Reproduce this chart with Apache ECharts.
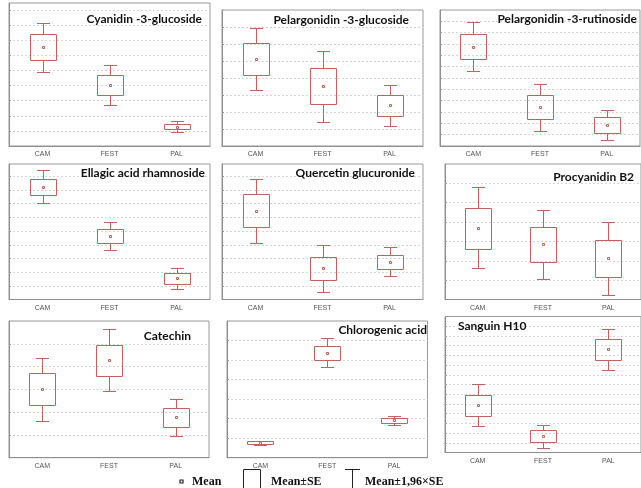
<!DOCTYPE html>
<html>
<head>
<meta charset="utf-8">
<script src="https://cdn.jsdelivr.net/npm/echarts@6/dist/echarts.min.js"></script>
<style>
  html, body { margin: 0; padding: 0; background: #fff; }
  #chart { width: 641px; height: 488px; }
</style>
</head>
<body>
<div id="chart"></div>
<script>
// each row: [mean-1.96SE, mean-SE, mean, mean+SE, mean+1.96SE] for CAM, FEST, PAL
const categories = ['CAM', 'FEST', 'PAL']
const titles = [
  'Cyanidin -3-glucoside', 'Pelargonidin -3-glucoside', 'Pelargonidin -3-rutinoside',
  'Ellagic acid rhamnoside', 'Quercetin glucuronide', 'Procyanidin B2',
  'Catechin', 'Chlorogenic acid', 'Sanguin H10'
]
const cyanidin3glc = [[4.90, 5.68, 6.54, 7.40, 8.17], [2.72, 3.38, 4.06, 4.72, 5.38], [0.91, 1.10, 1.26, 1.48, 1.66]]
const pelargonidin3glc = [[3.28, 4.16, 5.10, 6.08, 6.96], [1.41, 2.45, 3.51, 4.57, 5.61], [1.18, 1.76, 2.39, 3.00, 3.59]]
const pelargonidin3rut = [[6.59, 7.65, 8.76, 9.88, 10.97], [1.29, 2.38, 3.41, 4.47, 5.50], [0.53, 1.18, 1.85, 2.53, 3.18]]
const ellagicRham = [[7.04, 7.62, 8.25, 8.84, 9.45], [3.62, 4.13, 4.67, 5.16, 5.67], [0.75, 1.16, 1.55, 1.92, 2.33]]
const quercetinGlcA = [[4.13, 5.30, 6.47, 7.70, 8.84], [0.55, 1.40, 2.28, 3.13, 3.99], [1.70, 2.23, 2.77, 3.28, 3.82]]
const procyanidinB2 = [[1.61, 2.62, 3.70, 4.75, 5.80], [1.07, 1.93, 2.85, 3.72, 4.60], [0.23, 1.16, 2.12, 3.08, 4.01]]
const catechin = [[1.62, 2.31, 3.02, 3.71, 4.38], [2.94, 3.59, 4.31, 4.96, 5.63], [0.96, 1.35, 1.78, 2.16, 2.56]]
const chlorogenic = [[0.65, 0.71, 0.77, 0.85, 0.88], [4.62, 5.00, 5.38, 5.74, 6.12], [1.67, 1.77, 1.91, 2.03, 2.13]]
const sanguinH10 = [[2.69, 3.74, 4.87, 5.97, 7.03], [0.49, 1.08, 1.69, 2.28, 2.82], [8.49, 9.52, 10.62, 11.64, 12.67]]
const yMax = [9.47, 8, 12, 9.9, 9.9, 7, 6, 7, 14]

const panelData = [cyanidin3glc, pelargonidin3glc, pelargonidin3rut, ellagicRham, quercetinGlcA,
  procyanidinB2, catechin, chlorogenic, sanguinH10]

// layout of each plot frame [left, top, width, height]
const frames = [
  [9, 3, 201, 143], [222, 10, 201, 136], [440, 10, 200, 136],
  [9, 164, 201, 135.5], [222, 164, 201, 135.5], [445, 164, 200, 135.5],
  [9, 321, 200, 136.7], [227, 321, 200.5, 136.7], [445, 316.5, 200, 136]
]
// title anchor [x, y, align]
const titlePos = [
  [202, 19, 'right'], [409, 20, 'right'], [637, 19, 'right'],
  [205, 173, 'right'], [415, 173, 'right'], [634, 177, 'right'],
  [191, 336, 'right'], [427, 330, 'right'], [458, 326, 'left']
]

const RED = '#c2625f'
const chart = echarts.init(document.getElementById('chart'))

const renderBox = (params, api) => {
  const c = api.value(0)
  const x = Math.round(api.coord([c, 0])[0]) + 0.5
  const y = [1, 2, 3, 4, 5].map(i => Math.round(api.coord([c, api.value(i)])[1]) + 0.5)
  const bw = 13, cw = 6.5
  const st = { stroke: RED, lineWidth: 1, fill: null }
  return {
    type: 'group',
    children: [
      { type: 'rect', shape: { x: x - bw, y: y[3], width: bw * 2, height: y[1] - y[3] }, style: st },
      { type: 'line', shape: { x1: x, y1: y[3], x2: x, y2: y[4] }, style: st },
      { type: 'line', shape: { x1: x, y1: y[1], x2: x, y2: y[0] }, style: st },
      { type: 'line', shape: { x1: x - cw, y1: y[4], x2: x + cw, y2: y[4] }, style: st },
      { type: 'line', shape: { x1: x - cw, y1: y[0], x2: x + cw, y2: y[0] }, style: st },
      { type: 'rect', shape: { x: x - 1, y: y[2] - 1, width: 2, height: 2 }, style: st }
    ]
  }
}

const grids = [], xAxes = [], yAxes = [], series = [], graphics = []
frames.forEach((f, i) => {
  grids.push({ left: f[0], top: f[1], width: f[2], height: f[3], show: true, borderColor: '#999', borderWidth: 1, backgroundColor: '#fff' })
  xAxes.push({
    type: 'category', gridIndex: i, data: categories,
    axisLine: { lineStyle: { color: '#8f8f8f' } },
    axisTick: { inside: true, length: 2, alignWithLabel: true, lineStyle: { color: '#999' } },
    axisLabel: { color: '#555', fontSize: 7, fontFamily: 'Liberation Sans', margin: 5 },
    splitLine: { show: false }
  })
  const grid = []
  for (let v = 1; v < yMax[i] - 0.05; v++) grid.push(v)
  yAxes.push({
    type: 'value', gridIndex: i, min: 0, max: yMax[i],
    axisLine: { show: true, lineStyle: { color: '#8f8f8f' } },
    axisTick: { show: true, inside: true, length: 2, customValues: grid, lineStyle: { color: '#999' } },
    axisLabel: { show: false, customValues: grid },
    splitLine: { show: true, lineStyle: { color: '#d6d6d6', type: [2, 2], width: 1 } }
  })
  series.push({
    type: 'custom', xAxisIndex: i, yAxisIndex: i, renderItem: renderBox,
    encode: { x: 0, y: [1, 2, 3, 4, 5] },
    data: panelData[i].map((r, k) => [k].concat(r))
  })
  const t = titlePos[i]
  graphics.push({
    type: 'text', x: t[0], y: t[1], z: 10,
    style: { text: titles[i], fill: '#111', font: 'bold 12px Lato', textAlign: t[2], textVerticalAlign: 'middle', align: t[2], verticalAlign: 'middle' }
  })
})

// legend at the bottom
const legendFont = 'bold 12px "Liberation Serif"'
graphics.push(
  { type: 'rect', shape: { x: 180, y: 480, width: 3, height: 3 }, style: { stroke: '#222', fill: '#fff', lineWidth: 1.2 } },
  { type: 'text', x: 192, y: 482, style: { text: 'Mean', font: legendFont, fill: '#111', verticalAlign: 'middle', textVerticalAlign: 'middle' } },
  { type: 'polyline', shape: { points: [[243.5, 489], [243.5, 469.5], [260.5, 469.5], [260.5, 489]] }, style: { stroke: '#222', fill: null, lineWidth: 1 } },
  { type: 'text', x: 271, y: 482, style: { text: 'Mean±SE', font: legendFont, fill: '#111', verticalAlign: 'middle', textVerticalAlign: 'middle' } },
  { type: 'line', shape: { x1: 345, y1: 469.5, x2: 360, y2: 469.5 }, style: { stroke: '#222', lineWidth: 1 } },
  { type: 'line', shape: { x1: 352.5, y1: 469.5, x2: 352.5, y2: 489 }, style: { stroke: '#222', lineWidth: 1 } },
  { type: 'text', x: 365, y: 482, style: { text: 'Mean±1,96×SE', font: legendFont, fill: '#111', verticalAlign: 'middle', textVerticalAlign: 'middle' } }
)

chart.setOption({
  animation: false,
  backgroundColor: '#fff',
  grid: grids,
  xAxis: xAxes,
  yAxis: yAxes,
  series: series,
  graphic: graphics
})
</script>
</body>
</html>
